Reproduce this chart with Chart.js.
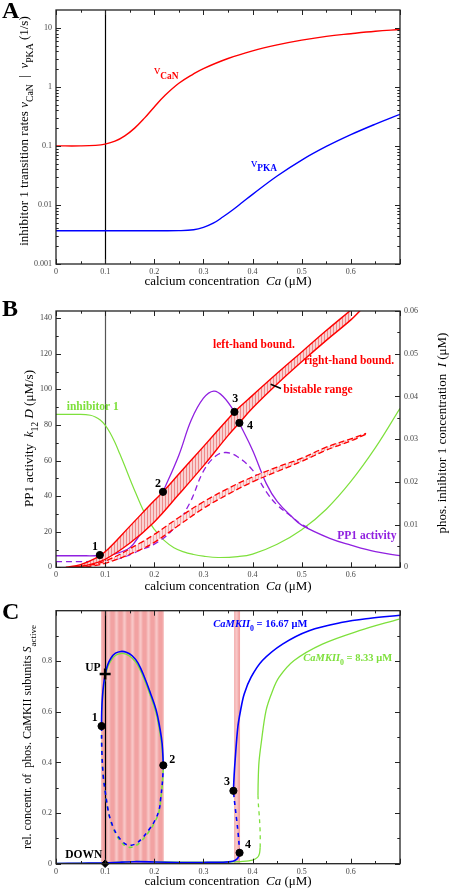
<!DOCTYPE html>
<html>
<head>
<meta charset="utf-8">
<script src="https://cdn.jsdelivr.net/npm/chart.js@4.4.0/dist/chart.umd.min.js"></script>
<style>
  body { margin: 0; background: #fff; width: 449px; height: 889px; position: relative; overflow: hidden; }
  canvas { position: absolute; left: 0; }
</style>
</head>
<body>
<canvas id="cA" width="449" height="290" style="top:0px"></canvas>
<canvas id="cB" width="449" height="303" style="top:290px"></canvas>
<canvas id="cC" width="449" height="296" style="top:593px"></canvas>
<script>
// ---------- panel A: transition rates ----------
const caCaN = [0, 0.05, 0.08, 0.1, 0.12, 0.14, 0.16, 0.18, 0.2, 0.22, 0.25, 0.28, 0.3, 0.35, 0.4, 0.45, 0.5, 0.55, 0.6, 0.65, 0.7];
const vCaN  = [0.1, 0.1, 0.102, 0.107, 0.12, 0.148, 0.2, 0.295, 0.457, 0.692, 1.148, 1.66, 2.04, 3.02, 4.07, 5.13, 6.17, 7.16, 7.94, 8.71, 9.33];
const caPKA = [0, 0.1, 0.2, 0.25, 0.28, 0.3, 0.32, 0.34, 0.36, 0.38, 0.4, 0.45, 0.5, 0.55, 0.6, 0.65, 0.7];
const vPKA  = [0.00366, 0.00366, 0.00366, 0.00367, 0.0038, 0.00417, 0.0049, 0.0063, 0.0083, 0.0112, 0.0151, 0.0309, 0.0575, 0.0977, 0.155, 0.234, 0.343];
const caRest = 0.1;

// ---------- panel B: PP1 activity / bistable range ----------
const caLeft  = [0.02, 0.05, 0.08, 0.1, 0.15, 0.2, 0.2177, 0.25, 0.3, 0.35, 0.363, 0.4, 0.45, 0.5, 0.55, 0.6];
const kLeft   = [0, 1.5, 5, 8.7, 23, 37.5, 42.4, 52.4, 67.8, 83.3, 87.3, 96.6, 109, 121, 133, 144.5];
const caRight = [0.03, 0.06, 0.1, 0.15, 0.2, 0.25, 0.3, 0.35, 0.373, 0.4, 0.45, 0.5, 0.55, 0.6, 0.62];
const kRight  = [0, 1, 4.5, 13.5, 25.5, 41, 57, 74, 81.1, 89.5, 103, 115.5, 127.5, 139, 144.5];
const caLeftD  = [0.05, 0.1, 0.17, 0.2, 0.25, 0.3, 0.35, 0.4, 0.45, 0.5, 0.55, 0.6, 0.631];
const kLeftD   = [0.3, 3.5, 13.5, 18.5, 28, 36.8, 44.3, 50.8, 56.3, 61.3, 67.5, 72.2, 75.3];
const caRightD = [0.06, 0.1, 0.17, 0.2, 0.25, 0.3, 0.35, 0.4, 0.45, 0.5, 0.55, 0.6, 0.631];
const kRightD  = [0.2, 2.2, 9.7, 14, 23.6, 33.1, 41, 48, 53.8, 59.5, 65.8, 71, 74.8];
const caPP1 = [0, 0.05, 0.08, 0.1, 0.12, 0.15, 0.17, 0.19, 0.2, 0.2177, 0.25, 0.275, 0.3, 0.321, 0.34, 0.363, 0.373, 0.4, 0.428, 0.45, 0.48, 0.5, 0.557, 0.6, 0.65, 0.7];
const pp1   = [6.5, 6.5, 6.5, 6.8, 7.6, 11, 18, 26.5, 31.5, 42.4, 63, 82.6, 95, 99, 96, 87.3, 81.1, 65.8, 47, 37, 28.4, 23.7, 16.3, 12.5, 8.8, 6.5];
const caPP1d = [0, 0.05, 0.1, 0.13, 0.15, 0.17, 0.2, 0.237, 0.272, 0.3, 0.325, 0.346, 0.37, 0.4, 0.428, 0.45, 0.48, 0.5, 0.52];
const pp1d   = [3.2, 3.2, 3.6, 5, 7, 9.5, 13, 21, 36, 54, 62.5, 64.5, 62, 54.6, 42.4, 35, 28.4, 24, 21.5];
const caInh = [0, 0.05, 0.07, 0.08, 0.09, 0.1, 0.11, 0.12, 0.13, 0.14, 0.15, 0.16, 0.17, 0.18, 0.19, 0.2, 0.22, 0.24, 0.26, 0.28, 0.3, 0.33, 0.37, 0.4, 0.45, 0.5, 0.55, 0.6, 0.65, 0.7];
const inh   = [0.0358, 0.0358, 0.0356, 0.0352, 0.0345, 0.0333, 0.0315, 0.0292, 0.0265, 0.0237, 0.0208, 0.018, 0.0153, 0.0128, 0.0107, 0.0089, 0.0063, 0.0046, 0.0036, 0.003, 0.0026, 0.0023, 0.0025, 0.0031, 0.0054, 0.0088, 0.0136, 0.0201, 0.028, 0.0372];
const caMarkB = [0.0892, 0.2177, 0.3631, 0.3732];
const kMarkB  = [6.9, 42.4, 87.3, 81.1];

// ---------- panel C: CaMKII bifurcation ----------
const bistLo = [0.0915, 0.3625];
const bistHi = [0.2195, 0.3745];
const bLowX = [0, 0.05, 0.1, 0.13, 0.16, 0.2, 0.25, 0.3, 0.34, 0.36, 0.368, 0.372, 0.3735];
const bLowS = [0.001, 0.002, 0.003, 0.006, 0.008, 0.007, 0.005, 0.005, 0.006, 0.01, 0.018, 0.03, 0.043];
const bMidX = [0.3735, 0.372, 0.369, 0.366, 0.363, 0.361];
const bMidS = [0.043, 0.09, 0.15, 0.2, 0.25, 0.288];
const bUpX = [0.361, 0.3625, 0.3645, 0.37, 0.376, 0.383, 0.397, 0.42, 0.461, 0.515, 0.583, 0.64, 0.7];
const bUpS = [0.288, 0.35, 0.409, 0.54, 0.61, 0.671, 0.737, 0.803, 0.868, 0.921, 0.954, 0.97, 0.982];
const gLowX = [0, 0.05, 0.1, 0.13, 0.16, 0.2, 0.25, 0.3, 0.35, 0.38, 0.4, 0.41, 0.414, 0.4155];
const gLowS = [0.001, 0.002, 0.003, 0.006, 0.009, 0.008, 0.006, 0.006, 0.007, 0.009, 0.014, 0.025, 0.04, 0.065];
const gMidX = [0.4155, 0.4155, 0.414, 0.412, 0.411];
const gMidS = [0.065, 0.12, 0.18, 0.23, 0.27];
const gUpX = [0.411, 0.4115, 0.413, 0.4174, 0.4275, 0.44, 0.454, 0.4845, 0.542, 0.617, 0.698];
const gUpS = [0.27, 0.33, 0.4, 0.474, 0.606, 0.68, 0.737, 0.803, 0.868, 0.921, 0.967];
// isola: stable (upper) arc from point 1 to point 2, unstable arc back from point 2 to point 1
const isoX  = [0.0927, 0.093, 0.0945, 0.097, 0.1, 0.105, 0.112, 0.121, 0.132, 0.143, 0.155, 0.167, 0.18, 0.192, 0.204, 0.211, 0.216, 0.2184];
const isoS  = [0.544, 0.6, 0.66, 0.71, 0.747, 0.785, 0.813, 0.832, 0.839, 0.836, 0.822, 0.793, 0.737, 0.675, 0.606, 0.54, 0.474, 0.389];
const isoDX = [0.2184, 0.2172, 0.2155, 0.2132, 0.2097, 0.2015, 0.1906, 0.1737, 0.163, 0.1535, 0.143, 0.133, 0.124, 0.116, 0.11, 0.106, 0.1005, 0.096, 0.0933, 0.0927];
const isoDS = [0.389, 0.34, 0.3, 0.26, 0.212, 0.172, 0.138, 0.097, 0.08, 0.073, 0.076, 0.092, 0.115, 0.146, 0.18, 0.212, 0.28, 0.35, 0.448, 0.544];
const gIsoX  = [0.0927, 0.0932, 0.0948, 0.0974, 0.1005, 0.1055, 0.1125, 0.1215, 0.132, 0.1425, 0.154, 0.166, 0.179, 0.191, 0.203, 0.21, 0.215, 0.2184];
const gIsoS  = [0.544, 0.598, 0.656, 0.704, 0.74, 0.778, 0.805, 0.824, 0.831, 0.828, 0.814, 0.786, 0.731, 0.67, 0.6, 0.535, 0.47, 0.389];
const gIsoDS = [0.389, 0.338, 0.297, 0.256, 0.207, 0.166, 0.131, 0.089, 0.072, 0.065, 0.068, 0.085, 0.109, 0.141, 0.176, 0.209, 0.278, 0.35, 0.448, 0.544];
const caMarkC = [0.0927, 0.2184, 0.361, 0.3735];
const sMarkC  = [0.544, 0.389, 0.288, 0.043];
const upState = [0.1, 0.75];
const downState = [0.1, 0];

// ---------- helpers ----------
const SERIF = '"Liberation Serif", "DejaVu Serif", serif';
const RED = '#f00', BLUE = '#00f', GREEN = '#7ee03c', PURPLE = '#9020e0';
Chart.defaults.font.family = SERIF;
Chart.defaults.elements.point.radius = 0;
Chart.defaults.elements.line.fill = false;
Chart.defaults.elements.line.tension = 0.4;

function pts(xs, ys) { return xs.map((x, i) => ({ x: x, y: ys[i] })); }
function range(a, b, step) {
  const out = [], n = Math.round((b - a) / step);
  for (let i = 0; i <= n; i++) out.push(+(a + i * step).toFixed(6));
  return out;
}
const xMajor = range(0, 0.7, 0.1), xMinor = range(0.05, 0.65, 0.1), xLabels = range(0, 0.6, 0.1);
const logMinor = [];
for (let d = -3; d <= 1; d++) for (let k = 2; k <= 9; k++) { const v = k * Math.pow(10, d); if (v < 20) logMinor.push(v); }

function makePattern(canvasId, w, colors) {
  const tile = document.createElement('canvas');
  tile.width = w; tile.height = 2;
  const t = tile.getContext('2d');
  colors.forEach((c, i) => { t.fillStyle = c; t.fillRect(i, 0, 1, 2); });
  return document.getElementById(canvasId).getContext('2d').createPattern(tile, 'repeat');
}

function drawRich(ctx, tx) {
  const size = tx.size || 13;
  const parts = tx.segs.map(s => {
    const st = s[1] || '';
    const sub = st.includes('s');
    const fs = sub ? size * 0.75 : size;
    const font = (st.includes('i') ? 'italic ' : '') + (st.includes('b') ? 'bold ' : '') + fs + 'px ' + SERIF;
    ctx.font = font;
    return { t: s[0], font: font, dy: sub ? size * 0.38 : 0, w: ctx.measureText(s[0]).width };
  });
  const total = parts.reduce((a, p) => a + p.w, 0);
  ctx.save();
  ctx.translate(tx.x, tx.y);
  if (tx.rot) ctx.rotate(tx.rot);
  ctx.fillStyle = tx.color || '#000';
  ctx.textBaseline = 'alphabetic';
  ctx.textAlign = 'left';
  let x = tx.align === 'center' ? -total / 2 : 0;
  parts.forEach(p => { ctx.font = p.font; ctx.fillText(p.t, x, p.dy); x += p.w; });
  ctx.restore();
}

// frame, inner ticks, shaded ranges, reference line and texts
function deco(cfg) {
  return {
    id: 'deco',
    beforeDatasetsDraw(chart) {
      const ctx = chart.ctx, a = chart.chartArea, sx = chart.scales.x;
      ctx.save();
      ctx.beginPath(); ctx.rect(a.left, a.top, a.right - a.left, a.bottom - a.top); ctx.clip();
      (cfg.bands || []).forEach(b => {
        const x1 = sx.getPixelForValue(b[0]), x2 = sx.getPixelForValue(b[1]);
        ctx.fillStyle = cfg.bandFill;
        ctx.fillRect(x1, a.top, x2 - x1, a.bottom - a.top);
      });
      if (cfg.vline != null) {
        const x = Math.round(sx.getPixelForValue(cfg.vline)) + 0.5;
        ctx.strokeStyle = cfg.vlineColor || '#000';
        ctx.lineWidth = 1.2;
        ctx.beginPath(); ctx.moveTo(x, a.top); ctx.lineTo(x, a.bottom); ctx.stroke();
      }
      ctx.restore();
    },
    afterDraw(chart) {
      const ctx = chart.ctx, a = chart.chartArea;
      ctx.save();
      ctx.strokeStyle = '#222'; ctx.lineWidth = 1.3;
      ctx.strokeRect(a.left, a.top, a.right - a.left, a.bottom - a.top);
      ctx.lineWidth = 1; ctx.strokeStyle = '#222';
      cfg.ticks.forEach(t => {
        const s = chart.scales[t.scale];
        const put = (v, len) => {
          const p = Math.round(s.getPixelForValue(v)) + 0.5;
          t.sides.forEach(side => {
            ctx.beginPath();
            if (side === 'bottom') { ctx.moveTo(p, a.bottom); ctx.lineTo(p, a.bottom - len); }
            if (side === 'top') { ctx.moveTo(p, a.top); ctx.lineTo(p, a.top + len); }
            if (side === 'left') { ctx.moveTo(a.left, p); ctx.lineTo(a.left + len, p); }
            if (side === 'right') { ctx.moveTo(a.right, p); ctx.lineTo(a.right - len, p); }
            ctx.stroke();
          });
        };
        t.major.forEach(v => put(v, 5));
        t.minor.forEach(v => put(v, 2.7));
      });
      (cfg.lines || []).forEach(l => {
        ctx.strokeStyle = l.color; ctx.lineWidth = l.width;
        ctx.beginPath(); ctx.moveTo(l.x1, l.y1); ctx.lineTo(l.x2, l.y2); ctx.stroke();
      });
      ctx.restore();
      (cfg.texts || []).forEach(tx => drawRich(ctx, tx));
    }
  };
}

function xScale(h) {
  return {
    type: 'linear', min: 0, max: 0.7,
    grid: { display: false, drawTicks: false }, border: { display: false },
    afterBuildTicks: s => { s.ticks = xLabels.map(v => ({ value: v })); },
    afterFit: s => { s.height = h; },
    ticks: { padding: 3, color: '#444', font: { size: 8, family: SERIF }, maxRotation: 0, autoSkip: false, callback: v => String(v) }
  };
}
function yScale(opts, labels, pos, w) {
  return Object.assign({
    position: pos,
    grid: { display: false, drawTicks: false }, border: { display: false },
    afterBuildTicks: s => { s.ticks = labels.map(v => ({ value: v })); },
    afterFit: s => { s.width = w; },
    ticks: { padding: 4, color: '#444', font: { size: 8, family: SERIF }, autoSkip: false, callback: v => String(v) }
  }, opts);
}
const base = {
  responsive: false, animation: false, devicePixelRatio: 1,
  plugins: { legend: { display: false }, tooltip: { enabled: false } }
};

// ---------- chart A ----------
new Chart(document.getElementById('cA'), {
  type: 'line',
  data: { datasets: [
    { data: pts(caCaN, vCaN), borderColor: RED, borderWidth: 1.4 },
    { data: pts(caPKA, vPKA), borderColor: BLUE, borderWidth: 1.4 }
  ] },
  options: Object.assign({}, base, {
    layout: { padding: { top: 10, right: 49, left: 0, bottom: 0 } },
    scales: {
      x: xScale(26),
      y: yScale({ type: 'logarithmic', min: 0.001, max: 20 }, [0.001, 0.01, 0.1, 1, 10], 'left', 56)
    }
  }),
  plugins: [deco({
    vline: caRest,
    ticks: [
      { scale: 'x', sides: ['bottom', 'top'], major: xMajor, minor: xMinor },
      { scale: 'y', sides: ['left', 'right'], major: [0.001, 0.01, 0.1, 1, 10], minor: logMinor }
    ],
    texts: [
      { x: 2, y: 18, segs: [['A', 'b']], size: 24 },
      { x: 28, y: 131, rot: -Math.PI / 2, align: 'center', size: 13,
        segs: [['inhibitor 1 transition rates ', ''], ['v', 'i'], ['CaN', 's'], ['  |  ', ''], ['v', 'i'], ['PKA', 's'], [' (1/s)', '']] },
      { x: 228, y: 285, align: 'center', size: 13, segs: [['calcium concentration  ', ''], ['Ca', 'i'], [' (\u03bcM)', '']] },
      { x: 154, y: 74, size: 12.5, color: RED, segs: [['v', ''], ['CaN', 'sb']] },
      { x: 251, y: 166.5, size: 12.5, color: BLUE, segs: [['v', ''], ['PKA', 'sb']] }
    ]
  })]
});

// ---------- chart B ----------
const hatchB = makePattern('cB', 3, ['#ee8a8a', '#f9d2d2', '#f9d2d2']);
const hatchBd = makePattern('cB', 3, ['#f4a8a8', '#fbe0e0', '#fbe0e0']);
new Chart(document.getElementById('cB'), {
  type: 'line',
  data: { datasets: [
    { data: pts(caLeft, kLeft), borderColor: RED, borderWidth: 1.4, order: 1 },
    { data: pts(caRight, kRight), borderColor: RED, borderWidth: 1.4, fill: '-1', backgroundColor: hatchB, order: 1 },
    { data: pts(caLeftD, kLeftD), borderColor: RED, borderWidth: 1.3, borderDash: [6, 3], order: 2 },
    { data: pts(caRightD, kRightD), borderColor: RED, borderWidth: 1.3, borderDash: [6, 3], fill: '-1', backgroundColor: hatchBd, order: 2 },
    { data: pts(caPP1, pp1), borderColor: PURPLE, borderWidth: 1.3, order: 3 },
    { data: pts(caPP1d, pp1d), borderColor: PURPLE, borderWidth: 1.3, borderDash: [6, 4], order: 3 },
    { data: pts(caInh, inh), yAxisID: 'y2', borderColor: GREEN, borderWidth: 1.2, order: 4 },
    { data: pts(caMarkB, kMarkB), showLine: false, pointRadius: 3.6, pointBackgroundColor: '#000', pointBorderColor: '#000', clip: false, order: 0 }
  ] },
  options: Object.assign({}, base, {
    layout: { padding: { top: 21, right: 0, left: 0, bottom: 0 } },
    scales: {
      x: xScale(25.7),
      y: yScale({ type: 'linear', min: 0, max: 144 }, range(0, 140, 20), 'left', 56),
      y2: yScale({ type: 'linear', min: 0, max: 0.06 }, range(0, 0.06, 0.01), 'right', 49)
    }
  }),
  plugins: [deco({
    vline: caRest, vlineColor: '#555',
    ticks: [
      { scale: 'x', sides: ['bottom', 'top'], major: xMajor, minor: xMinor },
      { scale: 'y', sides: ['left'], major: range(0, 140, 20), minor: range(10, 130, 20) },
      { scale: 'y2', sides: ['right'], major: range(0, 0.06, 0.01), minor: range(0.005, 0.055, 0.01) }
    ],
    lines: [{ x1: 270.7, y1: 94.3, x2: 281, y2: 98.5, color: '#000', width: 1.5 }],
    texts: [
      { x: 2, y: 26, segs: [['B', 'b']], size: 24 },
      { x: 33, y: 148.5, rot: -Math.PI / 2, align: 'center', size: 13,
        segs: [['PP1 activity  ', ''], ['k', 'i'], ['12', 's'], [' ', ''], ['D', 'i'], [' (\u03bcM/s)', '']] },
      { x: 446, y: 143, rot: -Math.PI / 2, align: 'center', size: 13,
        segs: [['phos. inhibitor 1 concentration  ', ''], ['I', 'i'], [' (\u03bcM)', '']] },
      { x: 228, y: 300, align: 'center', size: 13, segs: [['calcium concentration  ', ''], ['Ca', 'i'], [' (\u03bcM)', '']] },
      { x: 213, y: 58, size: 11.5, color: RED, segs: [['left-hand bound.', 'b']] },
      { x: 304, y: 74, size: 11.5, color: RED, segs: [['right-hand bound.', 'b']] },
      { x: 283.3, y: 103.3, size: 11.5, color: RED, segs: [['bistable range', 'b']] },
      { x: 66.7, y: 120, size: 11.5, color: GREEN, segs: [['inhibitor 1', 'b']] },
      { x: 337.3, y: 249.3, size: 11.5, color: PURPLE, segs: [['PP1 activity', 'b']] },
      { x: 92, y: 259.5, size: 12, segs: [['1', 'b']] },
      { x: 155, y: 196.5, size: 12, segs: [['2', 'b']] },
      { x: 232.3, y: 111.5, size: 12, segs: [['3', 'b']] },
      { x: 247, y: 139.3, size: 12, segs: [['4', 'b']] }
    ]
  })]
});

// ---------- chart C ----------
const stripeC = makePattern('cC', 8, ['#f2a2a2', '#f2a2a2', '#f3abab', '#f6bcbc', '#f8c6c6', '#f6bcbc', '#f3abab', '#f2a2a2']);
const dash = [4, 4];
new Chart(document.getElementById('cC'), {
  type: 'line',
  data: { datasets: [
    { data: pts(gLowX, gLowS), borderColor: GREEN, borderWidth: 1.3, tension: 0.3, order: 3 },
    { data: pts(gMidX, gMidS), borderColor: GREEN, borderWidth: 1.3, borderDash: dash, tension: 0.3, order: 3 },
    { data: pts(gUpX, gUpS), borderColor: GREEN, borderWidth: 1.3, tension: 0.35, order: 3 },
    { data: pts(gIsoX, gIsoS), borderColor: GREEN, borderWidth: 1.4, order: 3 },
    { data: pts(isoDX, gIsoDS), borderColor: GREEN, borderWidth: 1.6, borderDash: dash, borderDashOffset: 4, order: 3 },
    { data: pts(bLowX, bLowS), borderColor: BLUE, borderWidth: 1.6, tension: 0.3, order: 2 },
    { data: pts(bMidX, bMidS), borderColor: BLUE, borderWidth: 1.6, borderDash: dash, tension: 0.3, order: 2 },
    { data: pts(bUpX, bUpS), borderColor: BLUE, borderWidth: 1.6, tension: 0.35, order: 2 },
    { data: pts(isoX, isoS), borderColor: BLUE, borderWidth: 1.6, order: 2 },
    { data: pts(isoDX, isoDS), borderColor: BLUE, borderWidth: 1.6, borderDash: dash, order: 2 },
    { data: pts(caMarkC, sMarkC), showLine: false, pointRadius: 3.6, pointBackgroundColor: '#000', pointBorderColor: '#000', clip: false, order: 0 },
    { data: [{ x: upState[0], y: upState[1] }], showLine: false, pointStyle: 'cross', pointRadius: 5.5, pointBorderWidth: 2.5, pointBorderColor: '#000', clip: false, order: 0 },
    { data: [{ x: downState[0], y: downState[1] }], showLine: false, pointStyle: 'rectRot', pointRadius: 3.8, pointBackgroundColor: '#000', pointBorderColor: '#000', clip: false, order: 0 }
  ] },
  options: Object.assign({}, base, {
    layout: { padding: { top: 17.7, right: 49, left: 0, bottom: 0 } },
    scales: {
      x: xScale(25.3),
      y: yScale({ type: 'linear', min: 0, max: 1 }, range(0, 0.8, 0.2), 'left', 56)
    }
  }),
  plugins: [deco({
    bands: bistLo.map((lo, i) => [lo, bistHi[i]]), bandFill: stripeC,
    vline: caRest,
    ticks: [
      { scale: 'x', sides: ['bottom', 'top'], major: xMajor, minor: xMinor },
      { scale: 'y', sides: ['left', 'right'], major: range(0, 0.8, 0.2), minor: range(0.1, 0.9, 0.2) }
    ],
    texts: [
      { x: 2, y: 26, segs: [['C', 'b']], size: 24 },
      { x: 31, y: 144, rot: -Math.PI / 2, align: 'center', size: 12,
        segs: [['rel. concentr. of  phos. CaMKII subunits ', ''], ['S', 'i'], ['active', 's']] },
      { x: 228, y: 292, align: 'center', size: 13, segs: [['calcium concentration  ', ''], ['Ca', 'i'], [' (\u03bcM)', '']] },
      { x: 213.3, y: 33.7, size: 10.5, color: BLUE, segs: [['CaMKII', 'bi'], ['0', 'sb'], [' = 16.67 \u03bcM', 'b']] },
      { x: 303.3, y: 68, size: 10.5, color: GREEN, segs: [['CaMKII', 'bi'], ['0', 'sb'], [' = 8.33 \u03bcM', 'b']] },
      { x: 85.3, y: 77.7, size: 11.5, segs: [['UP', 'b']] },
      { x: 65.3, y: 264.7, size: 11.5, segs: [['DOWN', 'b']] },
      { x: 91.7, y: 127.7, size: 12, segs: [['1', 'b']] },
      { x: 169.3, y: 170.3, size: 12, segs: [['2', 'b']] },
      { x: 224, y: 192, size: 12, segs: [['3', 'b']] },
      { x: 245, y: 255.3, size: 12, segs: [['4', 'b']] }
    ]
  })]
});
</script>
</body>
</html>
